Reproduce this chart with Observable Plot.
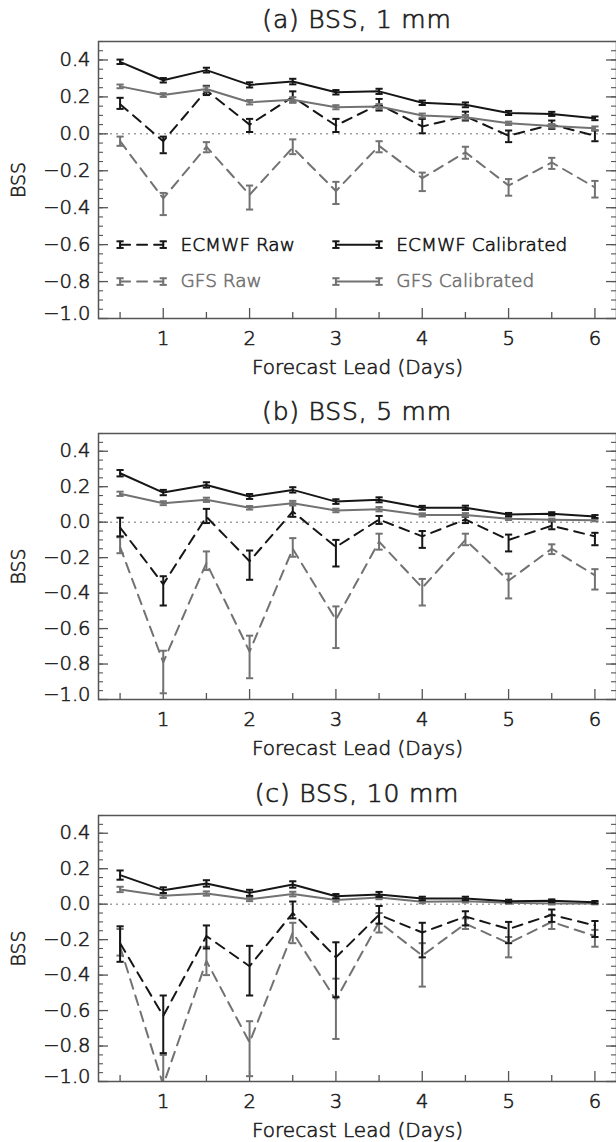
<!DOCTYPE html>
<html>
<head>
<meta charset="utf-8">
<script src="https://cdn.jsdelivr.net/npm/d3@7"></script>
<script src="https://cdn.jsdelivr.net/npm/@observablehq/plot@0.6"></script>
<style>
  html, body { margin: 0; padding: 0; background: #fff; }
  #wrap { position: relative; width: 616px; height: 1142px; overflow: hidden; font-family: "DejaVu Sans", sans-serif; color: #1e1e1e; }
  .title { position: absolute; left: 98px; width: 518px; text-align: center; font-size: 25px; font-weight: 200; letter-spacing: 0.8px; line-height: 1; -webkit-text-stroke: 0.7px #1e1e1e; }
  .panel { position: absolute; left: 0; }
  svg { overflow: visible; }
  svg text { font-weight: 200; }
</style>
</head>
<body>
<div id="wrap"></div>
<script>
// ---- data ----
const leads = [0.5, 1, 1.5, 2, 2.5, 3, 3.5, 4, 4.5, 5, 5.5, 6];
const dayTicks = [1, 2, 3, 4, 5, 6];
const halfDayTicks = [0.5, 1.5, 2.5, 3.5, 4.5, 5.5];
const yLabelTicks = [0.4, 0.2, 0.0, -0.2, -0.4, -0.6, -0.8, -1.0];
const yMinorTicks = d3.range(-20, 11).map(i => i / 20);
const panelTitles = ["(a) BSS, 1 mm", "(b) BSS, 5 mm", "(c) BSS, 10 mm"];
const seriesNames = ["ECMWF Raw", "ECMWF Calibrated", "GFS Raw", "GFS Calibrated"];

// Panel (a) 1 mm
const ecCalA    = [0.39, 0.29, 0.345, 0.265, 0.283, 0.225, 0.23, 0.168, 0.157, 0.113, 0.108, 0.084];
const ecCalErrA = [0.012, 0.012, 0.013, 0.014, 0.015, 0.012, 0.014, 0.012, 0.013, 0.011, 0.011, 0.01];
const gfsCalA   = [0.257, 0.21, 0.243, 0.171, 0.184, 0.144, 0.148, 0.099, 0.09, 0.057, 0.043, 0.03];
const gfsCalErrA= [0.01, 0.01, 0.013, 0.012, 0.014, 0.011, 0.013, 0.011, 0.012, 0.009, 0.01, 0.01];
const ecRawA    = [0.16, -0.04, 0.235, 0.05, 0.2, 0.045, 0.16, 0.04, 0.095, -0.01, 0.05, -0.01];
const ecRawLoA  = [0.135, -0.105, 0.21, 0.01, 0.17, 0.01, 0.126, 0.003, 0.072, -0.045, 0.027, -0.04];
const ecRawHiA  = [0.195, -0.015, 0.26, 0.081, 0.23, 0.081, 0.189, 0.081, 0.12, 0.018, 0.072, 0.018];
const gfsRawA   = [-0.04, -0.35, -0.07, -0.33, -0.075, -0.31, -0.065, -0.24, -0.1, -0.28, -0.155, -0.29];
const gfsRawLoA = [-0.065, -0.44, -0.1, -0.41, -0.11, -0.38, -0.1, -0.31, -0.135, -0.335, -0.19, -0.345];
const gfsRawHiA = [-0.015, -0.32, -0.045, -0.28, -0.03, -0.26, -0.04, -0.21, -0.07, -0.245, -0.13, -0.255];

// Panel (b) 5 mm
const ecCalB    = [0.276, 0.167, 0.21, 0.145, 0.182, 0.116, 0.126, 0.081, 0.081, 0.043, 0.047, 0.032];
const ecCalErrB = [0.018, 0.015, 0.015, 0.014, 0.015, 0.013, 0.014, 0.011, 0.012, 0.009, 0.009, 0.008];
const gfsCalB   = [0.16, 0.107, 0.126, 0.081, 0.107, 0.066, 0.073, 0.041, 0.041, 0.019, 0.013, 0.011];
const gfsCalErrB= [0.012, 0.011, 0.012, 0.01, 0.013, 0.01, 0.012, 0.009, 0.01, 0.007, 0.007, 0.006];
const ecRawB    = [-0.03, -0.35, 0.03, -0.22, 0.06, -0.14, 0.015, -0.08, 0.015, -0.1, -0.02, -0.08];
const ecRawLoB  = [-0.08, -0.47, -0.005, -0.325, 0.03, -0.25, -0.01, -0.145, -0.005, -0.165, -0.04, -0.13];
const ecRawHiB  = [0.025, -0.305, 0.075, -0.16, 0.105, -0.1, 0.035, -0.05, 0.03, -0.07, 0.005, -0.06];
const gfsRawB   = [-0.14, -0.79, -0.23, -0.73, -0.15, -0.55, -0.11, -0.37, -0.1, -0.33, -0.15, -0.3];
const gfsRawLoB = [-0.175, -0.965, -0.27, -0.88, -0.195, -0.71, -0.155, -0.47, -0.13, -0.43, -0.18, -0.38];
const gfsRawHiB = [-0.085, -0.725, -0.165, -0.64, -0.09, -0.475, -0.065, -0.32, -0.065, -0.29, -0.125, -0.265];

// Panel (c) 10 mm
const ecCalC    = [0.164, 0.079, 0.117, 0.064, 0.111, 0.045, 0.055, 0.032, 0.032, 0.017, 0.019, 0.011];
const ecCalErrC = [0.026, 0.016, 0.018, 0.017, 0.018, 0.012, 0.014, 0.01, 0.01, 0.008, 0.008, 0.007];
const gfsCalC   = [0.083, 0.047, 0.06, 0.028, 0.057, 0.023, 0.038, 0.013, 0.017, 0.008, 0.004, 0.004];
const gfsCalErrC= [0.015, 0.012, 0.012, 0.011, 0.013, 0.009, 0.01, 0.008, 0.008, 0.006, 0.006, 0.005];
const ecRawC    = [-0.22, -0.63, -0.18, -0.35, -0.05, -0.3, -0.06, -0.16, -0.07, -0.14, -0.06, -0.12];
const ecRawLoC  = [-0.325, -0.84, -0.25, -0.515, -0.08, -0.525, -0.11, -0.3, -0.12, -0.22, -0.1, -0.185];
const ecRawHiC  = [-0.125, -0.515, -0.12, -0.235, 0.015, -0.215, -0.01, -0.105, -0.04, -0.1, -0.03, -0.095];
const gfsRawC   = [-0.24, -1.02, -0.32, -0.78, -0.16, -0.54, -0.1, -0.29, -0.11, -0.22, -0.1, -0.18];
const gfsRawLoC = [-0.29, -1.2, -0.4, -0.97, -0.22, -0.76, -0.16, -0.465, -0.14, -0.3, -0.14, -0.24];
const gfsRawHiC = [-0.14, -0.85, -0.24, -0.66, -0.105, -0.42, -0.05, -0.22, -0.08, -0.185, -0.06, -0.145];

// ---- styling / layout ----
const BLACK = "#161616", GRAY = "#727272", TEXT = "#1e1e1e";
const DASH = "10,7";
const TXT_STROKE = 0.6;
const plotW = 616, mLeft = 98, mRight = 0, mTop = 2, mBottom = 60;
const innerW = plotW - mLeft - mRight;

// legend layout (panel a), in data units of the plot
const legendLayout = [
  {name: seriesNames[0], color: BLACK, dashed: true,  row: -0.6, x1: 0.5, x2: 1.0, tx: 1.2},
  {name: seriesNames[1], color: BLACK, dashed: false, row: -0.6, x1: 3.0, x2: 3.5, tx: 3.7},
  {name: seriesNames[2], color: GRAY,  dashed: true,  row: -0.8, x1: 0.5, x2: 1.0, tx: 1.2},
  {name: seriesNames[3], color: GRAY,  dashed: false, row: -0.8, x1: 3.0, x2: 3.5, tx: 3.7}
];

const capSymbol = {
  draw(ctx, size) {
    const w = Math.sqrt(size / Math.PI);
    ctx.moveTo(-w, 0);
    ctx.lineTo(w, 0);
  }
};

function rowsOf(vals, lo, hi) {
  return leads.map((x, i) => ({x, y: vals[i], lo: lo[i], hi: hi[i]}));
}
function rowsErr(vals, err) {
  return leads.map((x, i) => ({x, y: vals[i], lo: vals[i] - err[i], hi: vals[i] + err[i]}));
}

function seriesMarks(rows, color, dashed) {
  return [
    Plot.line(rows, {x: "x", y: "y", stroke: color, strokeWidth: 2, strokeDasharray: dashed ? DASH : null, clip: true}),
    Plot.ruleX(rows, {x: "x", y1: "lo", y2: "hi", stroke: color, strokeWidth: 2, clip: true}),
    Plot.dot(rows, {x: "x", y: "lo", symbol: capSymbol, r: 3.6, stroke: color, strokeWidth: 2, fill: "none", clip: true}),
    Plot.dot(rows, {x: "x", y: "hi", symbol: capSymbol, r: 3.6, stroke: color, strokeWidth: 2, fill: "none", clip: true})
  ];
}

function txt(data, opts) {
  const c = opts.fill || TEXT;
  return Plot.text(data, {fill: c, stroke: c, strokeWidth: TXT_STROKE, ...opts});
}

function legendMarks() {
  const marks = [];
  for (const L of legendLayout) {
    const seg = [{x: L.x1, y: L.row}, {x: L.x2, y: L.row}];
    const bars = seg.map(d => ({x: d.x, lo: d.y - 0.018, hi: d.y + 0.018}));
    marks.push(Plot.line(seg, {x: "x", y: "y", stroke: L.color, strokeWidth: 2, strokeDasharray: L.dashed ? DASH : null}));
    marks.push(Plot.ruleX(bars, {x: "x", y1: "lo", y2: "hi", stroke: L.color, strokeWidth: 2}));
    marks.push(Plot.dot(bars, {x: "x", y: "lo", symbol: capSymbol, r: 3.6, stroke: L.color, strokeWidth: 2, fill: "none"}));
    marks.push(Plot.dot(bars, {x: "x", y: "hi", symbol: capSymbol, r: 3.6, stroke: L.color, strokeWidth: 2, fill: "none"}));
    marks.push(txt([L.name], {x: L.tx, y: L.row, text: d => d, fill: L.color, fontSize: 18.5, textAnchor: "start", lineAnchor: "middle"}));
  }
  return marks;
}

const fmt = d3.format(".1f");

function makePanel(p) {
  const H = p.h;
  const marks = [
    Plot.ruleY([0], {stroke: "#a0a0a0", strokeWidth: 1.5, strokeDasharray: "2,4"}),
    // inward ticks
    Plot.tickX(dayTicks, {x: d => d, stroke: "#555", strokeWidth: 1.3, insetTop: H - 10}),
    Plot.tickX(halfDayTicks, {x: d => d, stroke: "#555", strokeWidth: 1.3, insetTop: H - 6}),
    Plot.tickY(yLabelTicks, {y: d => d, stroke: "#555", strokeWidth: 1.3, insetRight: innerW - 10}),
    Plot.tickY(yLabelTicks, {y: d => d, stroke: "#555", strokeWidth: 1.3, insetLeft: innerW - 10}),
    Plot.tickY(yMinorTicks, {y: d => d, stroke: "#555", strokeWidth: 1.1, insetRight: innerW - 5}),
    Plot.tickY(yMinorTicks, {y: d => d, stroke: "#555", strokeWidth: 1.1, insetLeft: innerW - 5}),
    ...seriesMarks(rowsOf(p.gfsRaw, p.gfsRawLo, p.gfsRawHi), GRAY, true),
    ...seriesMarks(rowsOf(p.ecRaw, p.ecRawLo, p.ecRawHi), BLACK, true),
    ...seriesMarks(rowsErr(p.gfsCal, p.gfsCalErr), GRAY, false),
    ...seriesMarks(rowsErr(p.ecCal, p.ecCalErr), BLACK, false),
    ...(p.legend ? legendMarks() : []),
    Plot.frame({stroke: "#555", strokeWidth: 1.5}),
    // tick labels
    txt(dayTicks, {x: d => d, frameAnchor: "bottom", dy: 20, text: d => String(d), fontSize: 19.5, lineAnchor: "middle"}),
    txt(yLabelTicks.filter(v => v > -1), {y: d => d, frameAnchor: "left", dx: -8, text: d => fmt(d), fontSize: 19.5, textAnchor: "end"}),
    txt(yLabelTicks.filter(v => v <= -1), {y: d => d, frameAnchor: "left", dx: -8, dy: -5, text: d => fmt(d), fontSize: 19.5, textAnchor: "end"}),
    // axis titles
    txt(["Forecast Lead (Days)"], {frameAnchor: "bottom", dy: 49, text: d => d, fontSize: 20, lineAnchor: "middle"}),
    txt(["BSS"], {frameAnchor: "left", dx: -80, rotate: -90, text: d => d, fontSize: 19, textAnchor: "middle", lineAnchor: "middle"})
  ];
  return Plot.plot({
    width: plotW,
    height: H + mTop + mBottom,
    marginLeft: mLeft, marginRight: mRight, marginTop: mTop, marginBottom: mBottom,
    x: {domain: [0.25, 6.25], axis: null},
    y: {domain: [-1.0, 0.5], axis: null},
    style: {fontFamily: "DejaVu Sans, sans-serif", background: "transparent", overflow: "visible"},
    marks
  });
}

const panels = [
  {title: panelTitles[0], frameTop: 41, h: 277, titleTop: 7, legend: true,
   ecCal: ecCalA, ecCalErr: ecCalErrA, gfsCal: gfsCalA, gfsCalErr: gfsCalErrA,
   ecRaw: ecRawA, ecRawLo: ecRawLoA, ecRawHi: ecRawHiA, gfsRaw: gfsRawA, gfsRawLo: gfsRawLoA, gfsRawHi: gfsRawHiA},
  {title: panelTitles[1], frameTop: 433, h: 266, titleTop: 399, legend: false,
   ecCal: ecCalB, ecCalErr: ecCalErrB, gfsCal: gfsCalB, gfsCalErr: gfsCalErrB,
   ecRaw: ecRawB, ecRawLo: ecRawLoB, ecRawHi: ecRawHiB, gfsRaw: gfsRawB, gfsRawLo: gfsRawLoB, gfsRawHi: gfsRawHiB},
  {title: panelTitles[2], frameTop: 815, h: 266, titleTop: 781, legend: false,
   ecCal: ecCalC, ecCalErr: ecCalErrC, gfsCal: gfsCalC, gfsCalErr: gfsCalErrC,
   ecRaw: ecRawC, ecRawLo: ecRawLoC, ecRawHi: ecRawHiC, gfsRaw: gfsRawC, gfsRawLo: gfsRawLoC, gfsRawHi: gfsRawHiC}
];

const wrap = document.getElementById("wrap");
for (const p of panels) {
  const t = document.createElement("div");
  t.className = "title";
  t.style.top = p.titleTop + "px";
  t.textContent = p.title;
  wrap.appendChild(t);
  const holder = document.createElement("div");
  holder.className = "panel";
  holder.style.top = (p.frameTop - mTop) + "px";
  holder.appendChild(makePanel(p));
  wrap.appendChild(holder);
}
</script>
</body>
</html>
